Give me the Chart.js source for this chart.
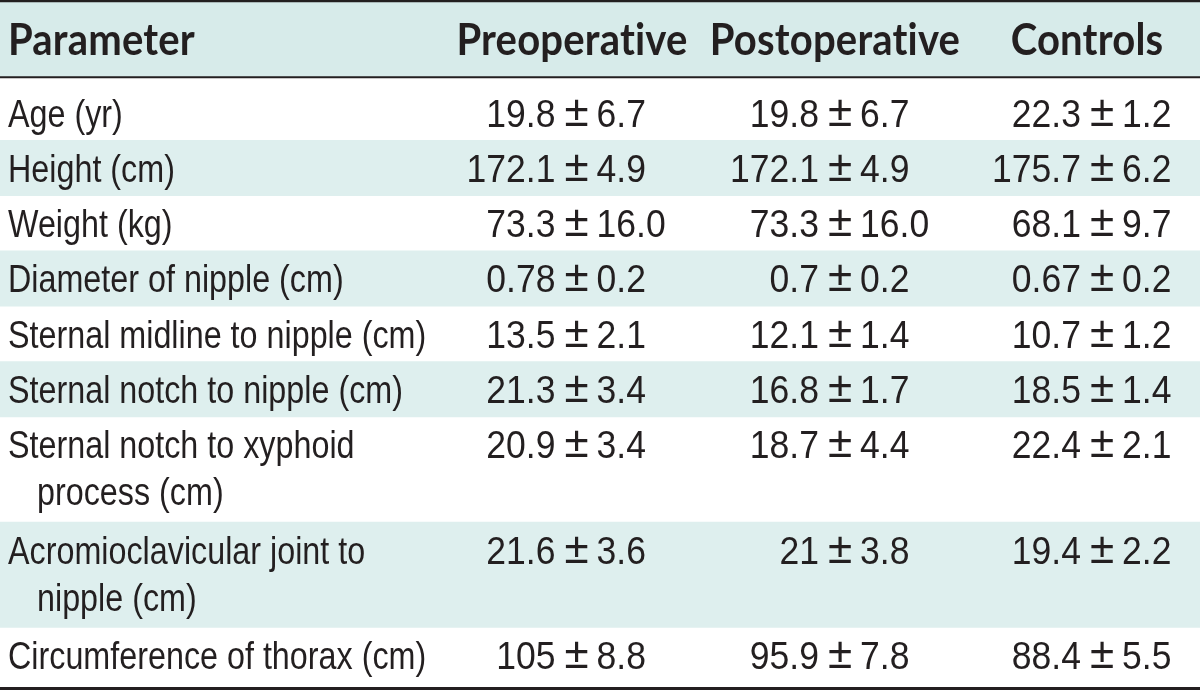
<!DOCTYPE html>
<html>
<head>
<meta charset="utf-8">
<script src="https://cdn.jsdelivr.net/npm/chart.js@4/dist/chart.umd.min.js"></script>
<style>
html,body{margin:0;padding:0;background:#fff;}
#wrap{width:1200px;height:690px;position:relative;}
</style>
</head>
<body>
<div id="wrap"><canvas id="c"></canvas></div>
<script>
// ---- data ----
const headers = ['Parameter', 'Preoperative', 'Postoperative', 'Controls'];
const parameters = [
  ['Age (yr)'],
  ['Height (cm)'],
  ['Weight (kg)'],
  ['Diameter of nipple (cm)'],
  ['Sternal midline to nipple (cm)'],
  ['Sternal notch to nipple (cm)'],
  ['Sternal notch to xyphoid', 'process (cm)'],
  ['Acromioclavicular joint to', 'nipple (cm)'],
  ['Circumference of thorax (cm)']
];
const preMean  = ['19.8', '172.1', '73.3', '0.78', '13.5', '21.3', '20.9', '21.6', '105'];
const preSD    = ['6.7', '4.9', '16.0', '0.2', '2.1', '3.4', '3.4', '3.6', '8.8'];
const postMean = ['19.8', '172.1', '73.3', '0.7', '12.1', '16.8', '18.7', '21', '95.9'];
const postSD   = ['6.7', '4.9', '16.0', '0.2', '1.4', '1.7', '4.4', '3.8', '7.8'];
const ctrlMean = ['22.3', '175.7', '68.1', '0.67', '10.7', '18.5', '22.4', '19.4', '88.4'];
const ctrlSD   = ['1.2', '6.2', '9.7', '0.2', '1.2', '1.4', '2.1', '2.2', '5.5'];

// ---- layout (table units on a 0..690 vertical scale, 0..1200 horizontal) ----
const HEAD_TOP = 2.7, HEAD_BOTTOM = 77, FIRST_PAD = 8, LAST_PAD = 4.6;
const ROW_H = 55.3, EXTRA_LINE_H = 50, BASE_OFF = 41.5, LINE_OFF = 47;
const TEAL = '#deefee', HEAD_BG = '#d7ebea', INK = '#231f20';
const colAnchors = [576.5, 840, 1102];    // centre of the ± sign in each value column
const headAnchors = [8, 572, 835, 1087];  // header text anchors
const LABEL_X = 8, INDENT_X = 37;
const PM_GAP_L = 21, PM_GAP_R = 20;

// row extents computed from line counts
const rows = [];
let yCur = HEAD_BOTTOM + FIRST_PAD;
parameters.forEach((p, i) => {
  const top = (i === 0) ? HEAD_BOTTOM : yCur;
  const contentTop = yCur;
  const h = ROW_H + EXTRA_LINE_H * (p.length - 1);
  yCur += h;
  const bottom = (i === parameters.length - 1) ? yCur + LAST_PAD : yCur;
  rows.push({top, bottom, contentTop});
});
const TABLE_BOTTOM = rows[rows.length - 1].bottom;

// bands as floating bars
const datasets = [];
function band(y0, y1, color) {
  datasets.push({data: [[y0, y1]], backgroundColor: color, borderWidth: 0,
    grouped: false, barPercentage: 1, categoryPercentage: 1});
}
band(HEAD_TOP, HEAD_BOTTOM - 1, HEAD_BG);
rows.forEach((r, i) => { if (i % 2 === 1) band(r.top, r.bottom, TEAL); });
band(0, HEAD_TOP, INK);
band(HEAD_BOTTOM - 1.2, HEAD_BOTTOM + 0.8, INK);
band(TABLE_BOTTOM, TABLE_BOTTOM + 2.8, INK);

const textPlugin = {
  id: 'tableText',
  afterDatasetsDraw(chart) {
    const ctx = chart.ctx;
    const xs = chart.scales.xt, ys = chart.scales.y;
    ctx.save();
    ctx.fillStyle = INK;
    ctx.textBaseline = 'alphabetic';
    function txt(s, x, y, font, sx, align, spacing) {
      ctx.save();
      ctx.font = font;
      ctx.textAlign = align || 'left';
      if ('letterSpacing' in ctx) ctx.letterSpacing = spacing || '0px';
      ctx.translate(x, y);
      ctx.scale(sx, 1);
      ctx.fillText(s, 0, 0);
      ctx.restore();
    }
    // header (small letter spacing prevents the "ti" ligature)
    const hFont = 'bold 44px Lato';
    const hSx = 0.91;
    const hY = ys.getPixelForValue(55);
    txt(headers[0], xs.getPixelForValue(headAnchors[0]), hY, hFont, hSx, 'left', '0.2px');
    for (let k = 1; k < 4; k++) txt(headers[k], xs.getPixelForValue(headAnchors[k]), hY, hFont, hSx, 'center', '0.2px');

    const bFont = '38px "Liberation Sans"';
    const pmFont = '44px "Liberation Sans"';
    const lSx = 0.85, nSx = 0.935;
    const means = [preMean, postMean, ctrlMean], sds = [preSD, postSD, ctrlSD];
    rows.forEach((r, i) => {
      const base = r.contentTop + BASE_OFF;
      const yb = ys.getPixelForValue(base);
      parameters[i].forEach((line, j) => {
        txt(line, xs.getPixelForValue(j === 0 ? LABEL_X : INDENT_X),
            ys.getPixelForValue(base + j * LINE_OFF), bFont, lSx, 'left');
      });
      for (let k = 0; k < 3; k++) {
        const ax = xs.getPixelForValue(colAnchors[k]);
        txt(means[k][i], ax - PM_GAP_L, yb, bFont, nSx, 'right');
        txt('\u00B1', ax, yb - 1, pmFont, 1, 'center');
        txt(sds[k][i], ax + PM_GAP_R, yb, bFont, nSx, 'left');
      }
    });
    ctx.restore();
  }
};

new Chart(document.getElementById('c'), {
  type: 'bar',
  data: { labels: ['table'], datasets },
  options: {
    responsive: true,
    maintainAspectRatio: false,
    animation: false,
    layout: { padding: 0 },
    plugins: { legend: { display: false }, tooltip: { enabled: false }, title: { display: false } },
    scales: {
      x: { type: 'category', display: false, offset: true, grid: { display: false } },
      xt: { type: 'linear', axis: 'x', min: 0, max: 1200, offset: false, display: false, grid: { offset: false } },
      y: { type: 'linear', min: 0, max: 690, reverse: true, offset: false, display: false }
    }
  },
  plugins: [textPlugin]
});
</script>
</body>
</html>
